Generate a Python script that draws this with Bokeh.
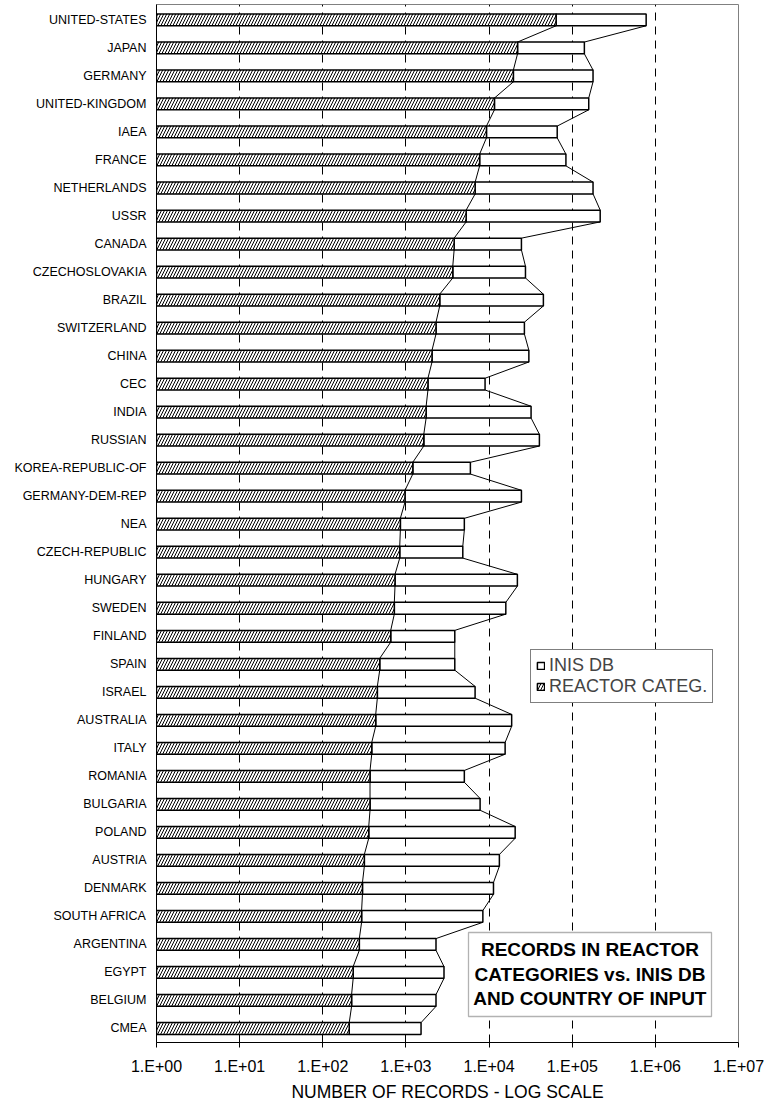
from bokeh.plotting import figure
from bokeh.models import (Range1d, FixedTicker, Legend, LegendItem, Label,
                          BoxAnnotation, ColumnDataSource)
from bokeh.embed import file_html
from bokeh.resources import INLINE

countries = ["UNITED-STATES", "JAPAN", "GERMANY", "UNITED-KINGDOM", "IAEA", "FRANCE",
             "NETHERLANDS", "USSR", "CANADA", "CZECHOSLOVAKIA", "BRAZIL", "SWITZERLAND",
             "CHINA", "CEC", "INDIA", "RUSSIAN", "KOREA-REPUBLIC-OF", "GERMANY-DEM-REP",
             "NEA", "CZECH-REPUBLIC", "HUNGARY", "SWEDEN", "FINLAND", "SPAIN", "ISRAEL",
             "AUSTRALIA", "ITALY", "ROMANIA", "BULGARIA", "POLAND", "AUSTRIA", "DENMARK",
             "SOUTH AFRICA", "ARGENTINA", "EGYPT", "BELGIUM", "CMEA"]
reactor_categ = [64000, 22000, 19600, 11600, 9300, 7700, 6800, 5300, 3800, 3660, 2550, 2300,
                 2060, 1840, 1750, 1640, 1210, 975, 857, 842, 739, 725, 656, 484, 453,
                 433, 388, 370, 370, 357, 316, 300, 293, 275, 232, 222, 208]
inis_db = [775000, 140000, 178000, 158000, 66000, 84000, 178000, 217000, 24500, 27400, 45000,
           26600, 30100, 8950, 32000, 40300, 5960, 24500, 5040, 4830, 21900, 15900, 3870,
           3870, 6790, 18700, 15600, 5040, 7800, 20600, 13300, 11300, 8420, 2300, 2870,
           2300, 1520]
tick_values = [1, 10, 100, 1000, 10000, 100000, 1000000, 10000000]
tick_labels = ["1.E+00", "1.E+01", "1.E+02", "1.E+03", "1.E+04", "1.E+05", "1.E+06", "1.E+07"]
series_labels = ["INIS DB", "REACTOR CATEG."]
title_lines = ["RECORDS IN REACTOR", "CATEGORIES vs. INIS DB", "AND COUNTRY OF INPUT"]
x_title = "NUMBER OF RECORDS - LOG SCALE"

FONT = "Liberation Sans"
n = len(countries)
pos = [n - 1 - i for i in range(n)]
BAR_H = 0.42

p = figure(width=764, height=1104, x_axis_type="log",
           x_range=Range1d(tick_values[0], tick_values[-1]),
           y_range=Range1d(-0.5, n - 1 + 0.55),
           output_backend="svg", toolbar_location=None, title=None,
           min_border_left=156, min_border_right=26, min_border_top=4, min_border_bottom=59)
p.background_fill_color = "white"
p.border_fill_color = "white"
p.outline_line_color = "#808080"
p.outline_line_width = 1

# grid
p.ygrid.visible = False
p.xgrid.ticker = FixedTicker(ticks=tick_values, minor_ticks=[])
p.xgrid.grid_line_color = "black"
p.xgrid.grid_line_dash = "8 6"
p.xgrid.grid_line_width = 1
p.xgrid.grid_line_alpha = 1

# x axis
xa = p.xaxis[0]
xa.ticker = FixedTicker(ticks=tick_values, minor_ticks=[])
xa.major_label_overrides = {v: l for v, l in zip(tick_values, tick_labels)}
xa.axis_line_color = "black"
xa.axis_line_width = 1
xa.major_tick_line_color = "black"
xa.major_tick_out = 5
xa.major_tick_in = 0
xa.minor_tick_out = 0
xa.minor_tick_in = 0
xa.major_label_text_font = FONT
xa.major_label_text_font_size = "16px"
xa.major_label_text_color = "black"
xa.major_label_standoff = 10
xa.axis_label = x_title
xa.axis_label_text_font = FONT
xa.axis_label_text_font_size = "17.5px"
xa.axis_label_text_font_style = "normal"
xa.axis_label_text_color = "black"
xa.axis_label_standoff = 4

# y axis
ya = p.yaxis[0]
ya.ticker = FixedTicker(ticks=pos, minor_ticks=[])
ya.major_label_overrides = {pv: c for pv, c in zip(pos, countries)}
ya.axis_line_color = "black"
ya.axis_line_width = 1
ya.major_tick_out = 0
ya.major_tick_in = 0
ya.minor_tick_out = 0
ya.minor_tick_in = 0
ya.major_label_text_font = FONT
ya.major_label_text_font_size = "12.5px"
ya.major_label_text_color = "black"
ya.major_label_standoff = 10

src = ColumnDataSource(dict(country=countries, pos=pos, reactor=reactor_categ,
                            inis=inis_db, base=[tick_values[0]] * n,
                            top=[v + BAR_H / 2 for v in pos],
                            bottom=[v - BAR_H / 2 for v in pos]))

white = p.quad(left="reactor", right="inis", top="top", bottom="bottom", source=src,
               fill_color="white", line_color="black", line_width=1.5)
hatched = p.quad(left="base", right="reactor", top="top", bottom="bottom", source=src,
                 fill_color="white", line_color="black", line_width=1.5,
                 hatch_pattern="/", hatch_color="black", hatch_scale=6, hatch_weight=1)

# series lines connecting bar ends
seg = ColumnDataSource(dict(
    r0=reactor_categ[:-1], r1=reactor_categ[1:],
    i0=inis_db[:-1], i1=inis_db[1:],
    y0=[v - BAR_H / 2 for v in pos[:-1]], y1=[v + BAR_H / 2 for v in pos[1:]]))
p.segment(x0="r0", y0="y0", x1="r1", y1="y1", source=seg, line_color="black", line_width=1)
p.segment(x0="i0", y0="y0", x1="i1", y1="y1", source=seg, line_color="black", line_width=1)

legend = Legend(items=[LegendItem(label=series_labels[0], renderers=[white]),
                       LegendItem(label=series_labels[1], renderers=[hatched])],
                location=(374, 339), border_line_color="black", border_line_width=1,
                background_fill_color="white", background_fill_alpha=1,
                label_text_font=FONT, label_text_font_size="18px",
                glyph_width=9, glyph_height=9, padding=5, spacing=0, margin=0,
                label_standoff=4, label_height=19)
p.add_layout(legend)

box = BoxAnnotation(left=312, right=555, top=110, bottom=26,
                    left_units="screen", right_units="screen",
                    top_units="screen", bottom_units="screen",
                    fill_color="white", fill_alpha=1, line_color="black", line_width=1.3)
p.add_layout(box)
for txt, yy in zip(title_lines, [92.7, 67.7, 44.3]):
    p.add_layout(Label(x=433.5, y=yy, x_units="screen", y_units="screen", text=txt,
                       text_align="center", text_baseline="middle", text_font=FONT,
                       text_font_size="19px", text_font_style="bold", text_color="black"))

open("out.html", "w").write(file_html(p, INLINE))
